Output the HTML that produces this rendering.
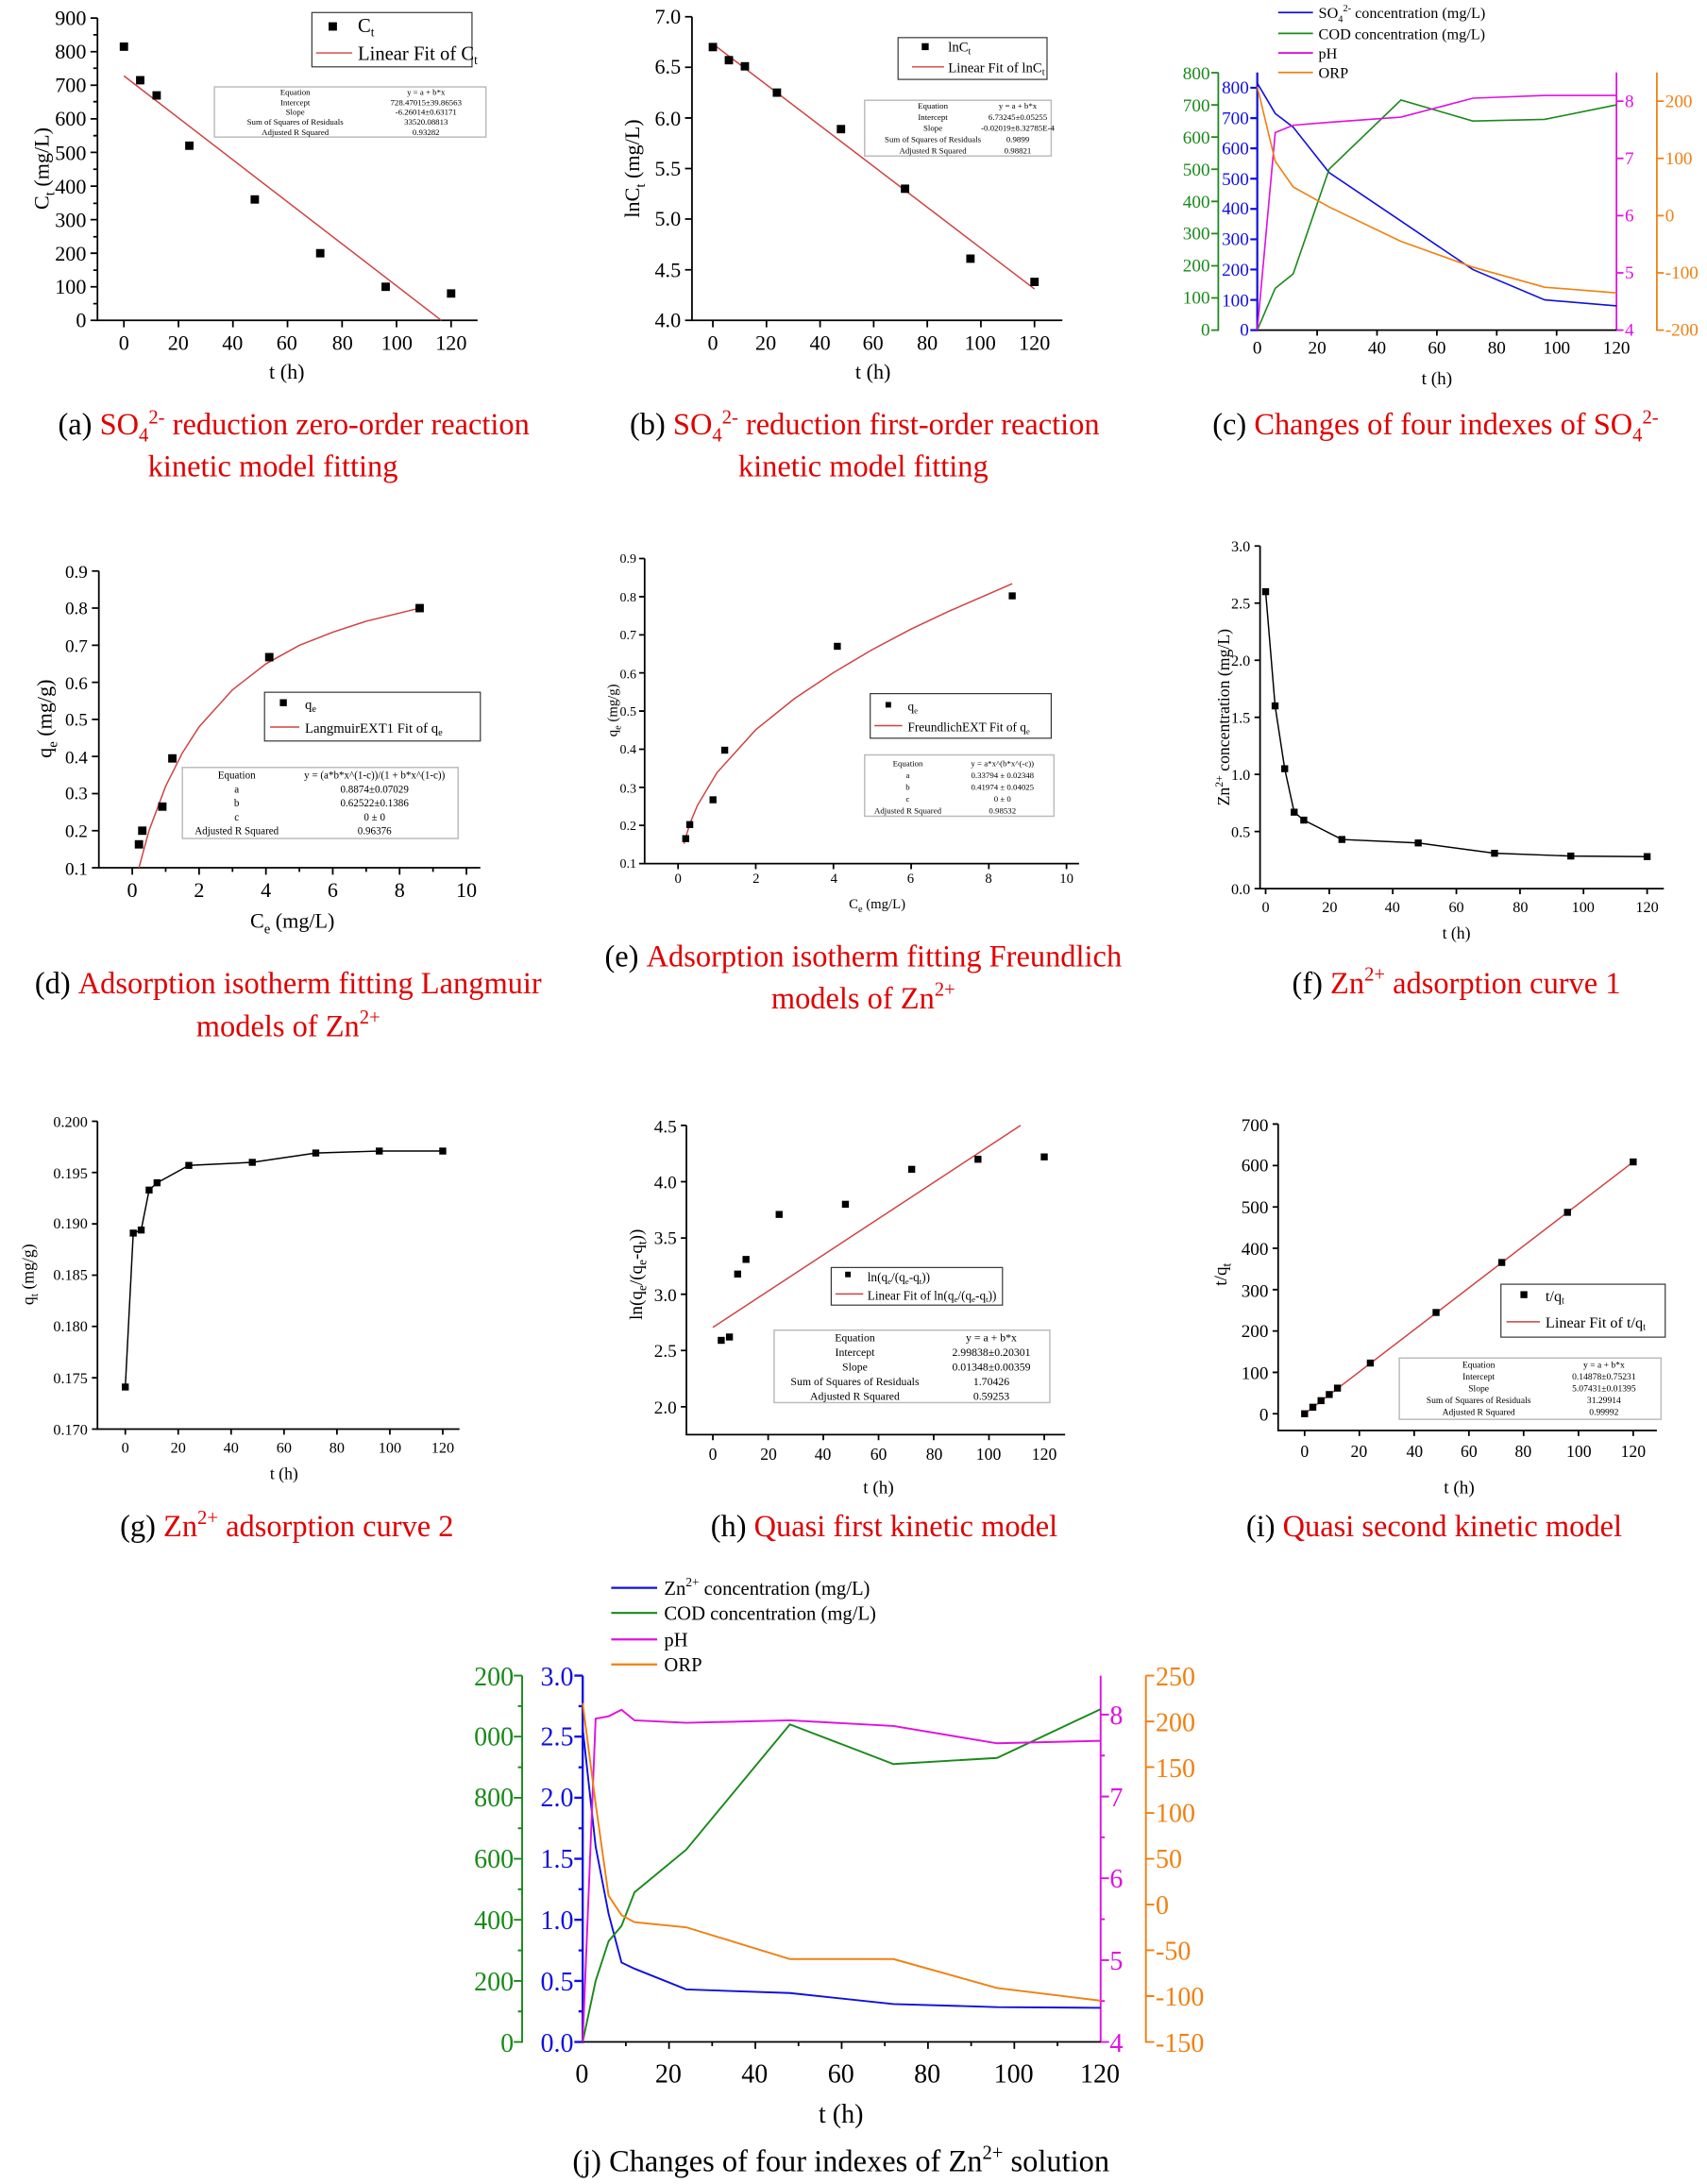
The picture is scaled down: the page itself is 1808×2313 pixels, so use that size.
<!DOCTYPE html>
<html><head><meta charset="utf-8"><style>
html,body{margin:0;padding:0;background:#fff}
svg{display:block}
text{font-family:"Liberation Serif",serif}
.k{stroke:#000;stroke-width:1.2;fill:none}
.t{font-size:15px}
.cap{font-size:22px}
.red{fill:#e00000}
</style></head><body>
<svg width="1808" height="2313" viewBox="0 0 1226 1568" preserveAspectRatio="none" xmlns="http://www.w3.org/2000/svg">
<rect width="1226" height="1568" fill="#fff"/>

<!-- ===== (a) ===== -->
<g>
<path class="k" d="M70 13V230H343"/>
<path class="k" d="M70 230h-5M70 205.9h-5M70 181.8h-5M70 157.7h-5M70 133.6h-5M70 109.4h-5M70 85.3h-5M70 61.2h-5M70 37.1h-5M70 13h-5M89 230v5M128.2 230v5M167.3 230v5M206.5 230v5M245.7 230v5M284.8 230v5M324 230v5M70 218h-3M70 194h-3M70 170h-3M70 146h-3M70 121.5h-3M70 97.4h-3M70 73h-3M70 49h-3M70 25h-3"/>
<g class="t" text-anchor="end"><text x="62" y="235">0</text><text x="62" y="211">100</text><text x="62" y="187">200</text><text x="62" y="163">300</text><text x="62" y="139">400</text><text x="62" y="115">500</text><text x="62" y="90">600</text><text x="62" y="66">700</text><text x="62" y="42">800</text><text x="62" y="18">900</text></g>
<g class="t" text-anchor="middle"><text x="89" y="251">0</text><text x="128" y="251">20</text><text x="167" y="251">40</text><text x="206" y="251">60</text><text x="246" y="251">80</text><text x="285" y="251">100</text><text x="324" y="251">120</text><text x="206" y="272">t (h)</text></g>
<text class="t" transform="translate(35,121) rotate(-90)" text-anchor="middle">C<tspan font-size="10" dy="4">t</tspan><tspan dy="-4"> (mg/L)</tspan></text>
<line x1="89" y1="54.5" x2="317" y2="230" stroke="#d04040" stroke-width="1"/>
<g fill="#000"><rect x="86" y="30.5" width="6" height="6"/><rect x="97.7" y="54.6" width="6" height="6"/><rect x="109.5" y="65.5" width="6" height="6"/><rect x="133" y="101.6" width="6" height="6"/><rect x="180" y="140.2" width="6" height="6"/><rect x="227" y="178.8" width="6" height="6"/><rect x="274" y="202.9" width="6" height="6"/><rect x="321" y="207.7" width="6" height="6"/></g>
<rect x="224" y="9" width="115" height="39" fill="#fff" stroke="#333" stroke-width="0.8"/>
<rect x="236" y="16" width="6" height="6" fill="#000"/><text x="257" y="23" font-size="14">C<tspan font-size="9" dy="3">t</tspan></text>
<line x1="227" y1="38" x2="253" y2="38" stroke="#d04040"/><text x="257" y="43" font-size="14">Linear Fit of C<tspan font-size="9" dy="3">t</tspan></text>
<rect x="154" y="62.4" width="195" height="36" fill="#fff" stroke="#bbb"/>
<g font-size="6" text-anchor="middle"><text x="212" y="68">Equation</text><text x="212" y="75.5">Intercept</text><text x="212" y="82.5">Slope</text><text x="212" y="89.5">Sum of Squares of Residuals</text><text x="212" y="97">Adjusted R Squared</text><text x="306" y="68">y = a + b*x</text><text x="306" y="75.5">728.47015±39.86563</text><text x="306" y="82.5">-6.26014±0.63171</text><text x="306" y="89.5">33520.08813</text><text x="306" y="97">0.93282</text></g>
<text class="cap" x="211" y="312" text-anchor="middle">(a) <tspan class="red">SO<tspan font-size="14" dy="5">4</tspan><tspan font-size="14" dy="-13">2-</tspan><tspan dy="8"> reduction zero-order reaction</tspan></tspan></text>
<text class="cap red" x="196" y="342" text-anchor="middle">kinetic model fitting</text>
</g>

<!-- ===== (b) ===== -->
<g>
<path class="k" d="M497 12V230H763"/>
<path class="k" d="M497 230h-5M497 193.7h-5M497 157.3h-5M497 121h-5M497 84.7h-5M497 48.3h-5M497 12h-5M512 230v5M550.5 230v5M589 230v5M627.5 230v5M666 230v5M704.5 230v5M743 230v5"/>
<g class="t" text-anchor="end"><text x="489" y="235">4.0</text><text x="489" y="199">4.5</text><text x="489" y="162">5.0</text><text x="489" y="126">5.5</text><text x="489" y="90">6.0</text><text x="489" y="53">6.5</text><text x="489" y="17">7.0</text></g>
<g class="t" text-anchor="middle"><text x="512" y="251">0</text><text x="550" y="251">20</text><text x="589" y="251">40</text><text x="627" y="251">60</text><text x="666" y="251">80</text><text x="704" y="251">100</text><text x="743" y="251">120</text><text x="627" y="272">t (h)</text></g>
<text class="t" transform="translate(459,121) rotate(-90)" text-anchor="middle">lnC<tspan font-size="10" dy="4">t</tspan><tspan dy="-4"> (mg/L)</tspan></text>
<line x1="512" y1="31.5" x2="743" y2="207.5" stroke="#d04040"/>
<g fill="#000"><rect x="509" y="30.8" width="6" height="6"/><rect x="520.5" y="40.2" width="6" height="6"/><rect x="532" y="44.6" width="6" height="6"/><rect x="555" y="63.5" width="6" height="6"/><rect x="601" y="89.7" width="6" height="6"/><rect x="647" y="132.5" width="6" height="6"/><rect x="694" y="182.7" width="6" height="6"/><rect x="740" y="199.4" width="6" height="6"/></g>
<rect x="645" y="27" width="107" height="30" fill="#fff" stroke="#333" stroke-width="0.8"/>
<rect x="662" y="31" width="5" height="5" fill="#000"/><text x="681" y="37" font-size="10">lnC<tspan font-size="7" dy="2">t</tspan></text>
<line x1="655" y1="48" x2="678" y2="48" stroke="#d04040"/><text x="681" y="52" font-size="10">Linear Fit of lnC<tspan font-size="7" dy="2">t</tspan></text>
<rect x="621" y="72" width="134" height="40" fill="#fff" stroke="#bbb"/>
<g font-size="6" text-anchor="middle"><text x="670" y="78">Equation</text><text x="670" y="86">Intercept</text><text x="670" y="94">Slope</text><text x="670" y="102">Sum of Squares of Residuals</text><text x="670" y="110">Adjusted R Squared</text><text x="731" y="78">y = a + b*x</text><text x="731" y="86">6.73245±0.05255</text><text x="731" y="94">-0.02019±8.32785E-4</text><text x="731" y="102">0.9899</text><text x="731" y="110">0.98821</text></g>
<text class="cap" x="621" y="312" text-anchor="middle">(b) <tspan class="red">SO<tspan font-size="14" dy="5">4</tspan><tspan font-size="14" dy="-13">2-</tspan><tspan dy="8"> reduction first-order reaction</tspan></tspan></text>
<text class="cap red" x="620" y="342" text-anchor="middle">kinetic model fitting</text>
</g>

<!-- ===== (c) ===== -->
<g>
<path d="M875 52V237h-5M875 213.9h-5M875 190.8h-5M875 167.7h-5M875 144.6h-5M875 121.5h-5M875 98.4h-5M875 75.3h-5M875 52.2h-5" stroke="#1a8a1a" fill="none" stroke-width="1.2"/>
<path d="M903 52V237h-5M903 215.3h-5M903 193.5h-5M903 171.8h-5M903 150h-5M903 128.3h-5M903 106.5h-5M903 84.8h-5M903 63h-5" stroke="#1010e0" fill="none" stroke-width="1.5"/>
<path d="M1161 52V237h5M1161 195.9h5M1161 154.8h5M1161 113.7h5M1161 72.6h5" stroke="#e010e0" fill="none" stroke-width="1.2"/>
<path d="M1190 52V237h5M1190 195.9h5M1190 154.8h5M1190 113.7h5M1190 72.6h5" stroke="#f08010" fill="none" stroke-width="1.2"/>
<path class="k" d="M903 237H1161M946 237v4M989 237v4M1032 237v4M1075 237v4M1118 237v4"/>
<g font-size="13" text-anchor="end" fill="#1a8a1a"><text x="869" y="241">0</text><text x="869" y="218">100</text><text x="869" y="195">200</text><text x="869" y="172">300</text><text x="869" y="149">400</text><text x="869" y="126">500</text><text x="869" y="103">600</text><text x="869" y="80">700</text><text x="869" y="57">800</text></g>
<g font-size="13" text-anchor="end" fill="#1010e0"><text x="897" y="241">0</text><text x="897" y="220">100</text><text x="897" y="198">200</text><text x="897" y="176">300</text><text x="897" y="154">400</text><text x="897" y="133">500</text><text x="897" y="111">600</text><text x="897" y="89">700</text><text x="897" y="67">800</text></g>
<g font-size="13" fill="#e010e0"><text x="1167" y="241">4</text><text x="1167" y="200">5</text><text x="1167" y="159">6</text><text x="1167" y="118">7</text><text x="1167" y="77">8</text></g>
<g font-size="13" fill="#f08010"><text x="1196" y="241">-200</text><text x="1196" y="200">-100</text><text x="1196" y="159">0</text><text x="1196" y="118">100</text><text x="1196" y="77">200</text></g>
<g font-size="13" text-anchor="middle"><text x="903" y="254">0</text><text x="946" y="254">20</text><text x="989" y="254">40</text><text x="1032" y="254">60</text><text x="1075" y="254">80</text><text x="1118" y="254">100</text><text x="1161" y="254">120</text><text x="1032" y="276">t (h)</text></g>
<g fill="none" stroke-width="1.1">
<polyline stroke="#1010e0" points="903,59.7 915.9,81.5 928.8,91.3 954.6,123.9 1006.2,158.7 1057.8,193.5 1109.4,215.3 1161,219.6"/>
<polyline stroke="#1a8a1a" points="903,237 915.9,207 928.8,196.6 954.6,121.5 1006.2,71.8 1057.8,86.9 1109.4,85.7 1161,75.3"/>
<polyline stroke="#e010e0" points="903,237 915.9,95.2 928.8,89.9 954.6,87.8 1006.2,84.1 1057.8,70.5 1109.4,68.5 1161,68.5"/>
<polyline stroke="#f08010" points="903,62.3 915.9,115.8 928.8,134.2 954.6,148.6 1006.2,173.3 1057.8,191.8 1109.4,206.2 1161,210.3"/>
</g>
<g stroke-width="1.2"><line x1="918" y1="9" x2="943" y2="9" stroke="#1010e0"/><line x1="918" y1="24" x2="943" y2="24" stroke="#1a8a1a"/><line x1="918" y1="38" x2="943" y2="38" stroke="#e010e0"/><line x1="918" y1="52" x2="943" y2="52" stroke="#f08010"/></g>
<g font-size="11"><text x="947" y="13">SO<tspan font-size="7" dy="3">4</tspan><tspan font-size="7" dy="-8">2-</tspan><tspan dy="5"> concentration (mg/L)</tspan></text><text x="947" y="28">COD concentration (mg/L)</text><text x="947" y="42">pH</text><text x="947" y="56">ORP</text></g>
<text class="cap" x="1031" y="312" text-anchor="middle">(c) <tspan class="red">Changes of four indexes of SO<tspan font-size="14" dy="5">4</tspan><tspan font-size="14" dy="-13">2-</tspan></tspan></text>
</g>

<!-- ===== (d) ===== -->
<g>
<path class="k" d="M71 410V623H345"/>
<path class="k" d="M71 623h-5M71 596.4h-5M71 569.75h-5M71 543.1h-5M71 516.5h-5M71 489.9h-5M71 463.25h-5M71 436.6h-5M71 410h-5M95 623v5M143 623v5M191 623v5M239 623v5M287 623v5M335 623v5M119 623v3M167 623v3M215 623v3M263 623v3M311 623v3"/>
<g font-size="13" text-anchor="end"><text x="63" y="628">0.1</text><text x="63" y="601">0.2</text><text x="63" y="574">0.3</text><text x="63" y="548">0.4</text><text x="63" y="521">0.5</text><text x="63" y="495">0.6</text><text x="63" y="468">0.7</text><text x="63" y="441">0.8</text><text x="63" y="415">0.9</text></g>
<g class="t" text-anchor="middle"><text x="95" y="644">0</text><text x="143" y="644">2</text><text x="191" y="644">4</text><text x="239" y="644">6</text><text x="287" y="644">8</text><text x="335" y="644">10</text><text x="210" y="666">C<tspan font-size="10" dy="4">e</tspan><tspan dy="-4"> (mg/L)</tspan></text></g>
<text class="t" transform="translate(37,516) rotate(-90)" text-anchor="middle">q<tspan font-size="10" dy="4">e</tspan><tspan dy="-4"> (mg/g)</tspan></text>
<polyline fill="none" stroke="#d04040" points="99.8,623 107,596.4 119,564.4 131,540.5 143,521.8 167,495.2 191,476.6 215,463.3 239,453.9 263,446 301.4,436.6"/>
<g fill="#000"><rect x="96.8" y="603.2" width="6" height="6"/><rect x="99.2" y="593.4" width="6" height="6"/><rect x="113.6" y="576.1" width="6" height="6"/><rect x="120.8" y="541.5" width="6" height="6"/><rect x="190.4" y="468.8" width="6" height="6"/><rect x="298.4" y="433.6" width="6" height="6"/></g>
<rect x="190" y="497" width="155" height="35" fill="#fff" stroke="#333" stroke-width="0.8"/>
<rect x="201" y="502" width="5" height="5" fill="#000"/><text x="219" y="509" font-size="10">q<tspan font-size="7" dy="2">e</tspan></text>
<line x1="194" y1="522" x2="215" y2="522" stroke="#d04040"/><text x="219" y="526" font-size="10">LangmuirEXT1 Fit of q<tspan font-size="7" dy="2">e</tspan></text>
<rect x="131" y="551" width="198" height="51" fill="#fff" stroke="#bbb"/>
<g font-size="7.5" text-anchor="middle"><text x="170" y="559">Equation</text><text x="170" y="569">a</text><text x="170" y="579">b</text><text x="170" y="589">c</text><text x="170" y="599">Adjusted R Squared</text><text x="269" y="559">y = (a*b*x^(1-c))/(1 + b*x^(1-c))</text><text x="269" y="569">0.8874±0.07029</text><text x="269" y="579">0.62522±0.1386</text><text x="269" y="589">0 ± 0</text><text x="269" y="599">0.96376</text></g>
<text class="cap" x="207" y="713" text-anchor="middle">(d) <tspan class="red">Adsorption isotherm fitting Langmuir</tspan></text>
<text class="cap red" x="207" y="744" text-anchor="middle">models of Zn<tspan font-size="14" dy="-9">2+</tspan></text>
</g>

<!-- ===== (e) ===== -->
<g>
<path class="k" d="M463 401V620H775" stroke-width="1"/>
<path class="k" stroke-width="1" d="M463 620h-4M463 592.6h-4M463 565.3h-4M463 537.9h-4M463 510.5h-4M463 483.1h-4M463 455.8h-4M463 428.4h-4M463 401h-4M487 620v4M542.8 620v4M598.6 620v4M654.4 620v4M710.2 620v4M766 620v4"/>
<g font-size="9.5" text-anchor="end"><text x="457" y="623">0.1</text><text x="457" y="596">0.2</text><text x="457" y="569">0.3</text><text x="457" y="541">0.4</text><text x="457" y="514">0.5</text><text x="457" y="487">0.6</text><text x="457" y="459">0.7</text><text x="457" y="432">0.8</text><text x="457" y="404">0.9</text></g>
<g font-size="10" text-anchor="middle"><text x="487" y="634">0</text><text x="543" y="634">2</text><text x="599" y="634">4</text><text x="654" y="634">6</text><text x="710" y="634">8</text><text x="766" y="634">10</text><text x="630" y="652">C<tspan font-size="7" dy="3">e</tspan><tspan dy="-3"> (mg/L)</tspan></text></g>
<text font-size="10" transform="translate(443,510) rotate(-90)" text-anchor="middle">q<tspan font-size="7" dy="3">e</tspan><tspan dy="-3"> (mg/g)</tspan></text>
<polyline fill="none" stroke="#d04040" points="491.2,605.8 495.4,591.5 501,578.1 514.9,554.8 542.8,523.9 570.7,501.5 598.6,482.9 626.5,466.4 654.4,451.6 682.3,438.5 727,419.1"/>
<g fill="#000"><rect x="490" y="599.6" width="5" height="5"/><rect x="492.9" y="589.5" width="5" height="5"/><rect x="509.6" y="571.7" width="5" height="5"/><rect x="518" y="536.1" width="5" height="5"/><rect x="598.9" y="461.5" width="5" height="5"/><rect x="724.5" y="425.3" width="5" height="5"/></g>
<rect x="625" y="498" width="130" height="32" fill="#fff" stroke="#333" stroke-width="0.8"/>
<rect x="636" y="504" width="4" height="4" fill="#000"/><text x="652" y="510" font-size="9">q<tspan font-size="6" dy="2">e</tspan></text>
<line x1="628" y1="521" x2="648" y2="521" stroke="#d04040"/><text x="652" y="525" font-size="9">FreundlichEXT Fit of q<tspan font-size="6" dy="2">e</tspan></text>
<rect x="621" y="542" width="136" height="44" fill="#fff" stroke="#bbb"/>
<g font-size="6" text-anchor="middle"><text x="652" y="550">Equation</text><text x="652" y="558.5">a</text><text x="652" y="567">b</text><text x="652" y="575.5">c</text><text x="652" y="584">Adjusted R Squared</text><text x="720" y="550">y = a*x^(b*x^(-c))</text><text x="720" y="558.5">0.33794 ± 0.02348</text><text x="720" y="567">0.41974 ± 0.04025</text><text x="720" y="575.5">0 ± 0</text><text x="720" y="584">0.98532</text></g>
<text class="cap" x="620" y="694" text-anchor="middle">(e) <tspan class="red">Adsorption isotherm fitting Freundlich</tspan></text>
<text class="cap red" x="620" y="724" text-anchor="middle">models of Zn<tspan font-size="14" dy="-9">2+</tspan></text>
</g>

<!-- ===== (f) ===== -->
<g>
<path class="k" d="M905 392V638H1195" stroke-width="1"/>
<path class="k" stroke-width="1" d="M905 638h-4M905 597h-4M905 556h-4M905 515h-4M905 474h-4M905 433h-4M905 392h-4M909 638v4M954.7 638v4M1000.3 638v4M1046 638v4M1091.7 638v4M1137.3 638v4M1183 638v4"/>
<g font-size="11" text-anchor="end"><text x="898" y="642">0.0</text><text x="898" y="601">0.5</text><text x="898" y="560">1.0</text><text x="898" y="519">1.5</text><text x="898" y="478">2.0</text><text x="898" y="437">2.5</text><text x="898" y="396">3.0</text></g>
<g font-size="11" text-anchor="middle"><text x="909" y="655">0</text><text x="955" y="655">20</text><text x="1000" y="655">40</text><text x="1046" y="655">60</text><text x="1092" y="655">80</text><text x="1137" y="655">100</text><text x="1183" y="655">120</text><text x="1046" y="674" font-size="12">t (h)</text></g>
<text font-size="12" transform="translate(883,515) rotate(-90)" text-anchor="middle">Zn<tspan font-size="8" dy="-5">2+</tspan><tspan dy="5"> concentration (mg/L)</tspan></text>
<polyline fill="none" stroke="#000" points="909,424.8 915.8,506.8 922.7,551.9 929.5,583.1 936.4,588.8 963.8,602.7 1018.6,605.2 1073.4,612.6 1128.2,614.6 1183,615"/>
<g fill="#000"><rect x="906.5" y="422.3" width="5" height="5"/><rect x="913.3" y="504.3" width="5" height="5"/><rect x="920.2" y="549.4" width="5" height="5"/><rect x="927" y="580.6" width="5" height="5"/><rect x="933.9" y="586.3" width="5" height="5"/><rect x="961.3" y="600.2" width="5" height="5"/><rect x="1016.1" y="602.7" width="5" height="5"/><rect x="1070.9" y="610.1" width="5" height="5"/><rect x="1125.7" y="612.1" width="5" height="5"/><rect x="1180.5" y="612.5" width="5" height="5"/></g>
<text class="cap" x="1046" y="713" text-anchor="middle">(f) <tspan class="red">Zn<tspan font-size="14" dy="-9">2+</tspan><tspan dy="9"> adsorption curve 1</tspan></tspan></text>
</g>

<!-- ===== (g) ===== -->
<g>
<path class="k" d="M70 805V1026H330" stroke-width="1"/>
<path class="k" stroke-width="1" d="M70 1026h-4M70 989.2h-4M70 952.3h-4M70 915.5h-4M70 878.7h-4M70 841.8h-4M70 805h-4M90 1026v4M128 1026v4M166 1026v4M204 1026v4M242 1026v4M280 1026v4M318 1026v4"/>
<g font-size="11" text-anchor="end"><text x="63" y="1030">0.170</text><text x="63" y="993">0.175</text><text x="63" y="956">0.180</text><text x="63" y="919">0.185</text><text x="63" y="882">0.190</text><text x="63" y="846">0.195</text><text x="63" y="809">0.200</text></g>
<g font-size="11" text-anchor="middle"><text x="90" y="1043">0</text><text x="128" y="1043">20</text><text x="166" y="1043">40</text><text x="204" y="1043">60</text><text x="242" y="1043">80</text><text x="280" y="1043">100</text><text x="318" y="1043">120</text><text x="204" y="1062" font-size="12">t (h)</text></g>
<text font-size="12" transform="translate(24,915) rotate(-90)" text-anchor="middle">q<tspan font-size="8" dy="3">t</tspan><tspan dy="-3"> (mg/g)</tspan></text>
<polyline fill="none" stroke="#000" points="90,995.8 95.7,885.3 101.4,883.1 107.1,854.4 112.8,849.2 135.6,836.7 181.2,834.5 226.8,827.8 272.4,826.4 318,826.4"/>
<g fill="#000"><rect x="87.5" y="993.3" width="5" height="5"/><rect x="93.2" y="882.8" width="5" height="5"/><rect x="98.9" y="880.6" width="5" height="5"/><rect x="104.6" y="851.9" width="5" height="5"/><rect x="110.3" y="846.7" width="5" height="5"/><rect x="133.1" y="834.2" width="5" height="5"/><rect x="178.7" y="832" width="5" height="5"/><rect x="224.3" y="825.3" width="5" height="5"/><rect x="269.9" y="823.9" width="5" height="5"/><rect x="315.5" y="823.9" width="5" height="5"/></g>
<text class="cap" x="206" y="1103" text-anchor="middle">(g) <tspan class="red">Zn<tspan font-size="14" dy="-9">2+</tspan><tspan dy="9"> adsorption curve 2</tspan></tspan></text>
</g>

<!-- ===== (h) ===== -->
<g>
<path class="k" d="M493 808V1030H765" stroke-width="1"/>
<path class="k" stroke-width="1" d="M493 1010h-4M493 969.6h-4M493 929.2h-4M493 888.8h-4M493 848.4h-4M493 808h-4M512 1030v4M551.7 1030v4M591.3 1030v4M631 1030v4M670.6 1030v4M710.3 1030v4M750 1030v4"/>
<g font-size="13" text-anchor="end"><text x="486" y="1015">2.0</text><text x="486" y="974">2.5</text><text x="486" y="934">3.0</text><text x="486" y="893">3.5</text><text x="486" y="853">4.0</text><text x="486" y="813">4.5</text></g>
<g font-size="12" text-anchor="middle"><text x="512" y="1048">0</text><text x="552" y="1048">20</text><text x="591" y="1048">40</text><text x="631" y="1048">60</text><text x="671" y="1048">80</text><text x="710" y="1048">100</text><text x="750" y="1048">120</text><text x="631" y="1072" font-size="13">t (h)</text></g>
<text font-size="13" transform="translate(461,915) rotate(-90)" text-anchor="middle">ln(q<tspan font-size="9" dy="3">e</tspan><tspan dy="-3">/(q</tspan><tspan font-size="9" dy="3">e</tspan><tspan dy="-3">-q</tspan><tspan font-size="9" dy="3">t</tspan><tspan dy="-3">))</tspan></text>
<line x1="512" y1="953" x2="733" y2="808" stroke="#d04040"/>
<g fill="#000"><rect x="515.5" y="959.8" width="5" height="5"/><rect x="521.4" y="957.4" width="5" height="5"/><rect x="527.3" y="912.2" width="5" height="5"/><rect x="533.3" y="901.7" width="5" height="5"/><rect x="557.1" y="869.4" width="5" height="5"/><rect x="604.7" y="862.1" width="5" height="5"/><rect x="652.3" y="837" width="5" height="5"/><rect x="699.9" y="829.8" width="5" height="5"/><rect x="747.5" y="828.1" width="5" height="5"/></g>
<rect x="597" y="910" width="123" height="27" fill="#fff" stroke="#333" stroke-width="0.8"/>
<rect x="607" y="913" width="4" height="4" fill="#000"/><text x="623" y="920" font-size="9">ln(q<tspan font-size="6" dy="2">e</tspan><tspan dy="-2">/(q</tspan><tspan font-size="6" dy="2">e</tspan><tspan dy="-2">-q</tspan><tspan font-size="6" dy="2">t</tspan><tspan dy="-2">))</tspan></text>
<line x1="600" y1="929" x2="620" y2="929" stroke="#d04040"/><text x="623" y="933" font-size="9">Linear Fit of ln(q<tspan font-size="6" dy="2">e</tspan><tspan dy="-2">/(q</tspan><tspan font-size="6" dy="2">e</tspan><tspan dy="-2">-q</tspan><tspan font-size="6" dy="2">t</tspan><tspan dy="-2">))</tspan></text>
<rect x="556" y="955" width="198" height="52" fill="#fff" stroke="#bbb"/>
<g font-size="8" text-anchor="middle"><text x="614" y="963">Equation</text><text x="614" y="973.5">Intercept</text><text x="614" y="984">Slope</text><text x="614" y="994.5">Sum of Squares of Residuals</text><text x="614" y="1005">Adjusted R Squared</text><text x="712" y="963">y = a + b*x</text><text x="712" y="973.5">2.99838±0.20301</text><text x="712" y="984">0.01348±0.00359</text><text x="712" y="994.5">1.70426</text><text x="712" y="1005">0.59253</text></g>
<text class="cap" x="635" y="1103" text-anchor="middle">(h) <tspan class="red">Quasi first kinetic model</tspan></text>
</g>

<!-- ===== (i) ===== -->
<g>
<path class="k" d="M918 807V1027H1190" stroke-width="1"/>
<path class="k" stroke-width="1" d="M918 1015h-4M918 985.3h-4M918 955.6h-4M918 925.9h-4M918 896.2h-4M918 866.5h-4M918 836.8h-4M918 807h-4M937 1027v4M976.3 1027v4M1015.7 1027v4M1055 1027v4M1094.3 1027v4M1133.7 1027v4M1173 1027v4"/>
<g font-size="13" text-anchor="end"><text x="911" y="1020">0</text><text x="911" y="990">100</text><text x="911" y="960">200</text><text x="911" y="931">300</text><text x="911" y="901">400</text><text x="911" y="871">500</text><text x="911" y="841">600</text><text x="911" y="812">700</text></g>
<g font-size="12" text-anchor="middle"><text x="937" y="1046">0</text><text x="976" y="1046">20</text><text x="1016" y="1046">40</text><text x="1055" y="1046">60</text><text x="1094" y="1046">80</text><text x="1134" y="1046">100</text><text x="1173" y="1046">120</text><text x="1048" y="1072" font-size="13">t (h)</text></g>
<text font-size="13" transform="translate(881,915) rotate(-90)" text-anchor="middle">t/q<tspan font-size="9" dy="3">t</tspan></text>
<line x1="937" y1="1015" x2="1173" y2="834.2" stroke="#d04040"/>
<g fill="#000"><rect x="934.5" y="1012.5" width="5" height="5"/><rect x="940.4" y="1007.8" width="5" height="5"/><rect x="946.3" y="1003.1" width="5" height="5"/><rect x="952.2" y="998.7" width="5" height="5"/><rect x="958.1" y="994.1" width="5" height="5"/><rect x="981.7" y="976.1" width="5" height="5"/><rect x="1028.9" y="939.8" width="5" height="5"/><rect x="1076.1" y="903.9" width="5" height="5"/><rect x="1123.3" y="867.9" width="5" height="5"/><rect x="1170.5" y="831.7" width="5" height="5"/></g>
<rect x="1078" y="922" width="118" height="38" fill="#fff" stroke="#333" stroke-width="0.8"/>
<rect x="1092" y="927" width="5" height="5" fill="#000"/><text x="1110" y="934" font-size="11">t/q<tspan font-size="7" dy="2">t</tspan></text>
<line x1="1082" y1="949" x2="1106" y2="949" stroke="#d04040"/><text x="1110" y="953" font-size="11">Linear Fit of t/q<tspan font-size="7" dy="2">t</tspan></text>
<rect x="1005" y="975" width="188" height="44" fill="#fff" stroke="#bbb"/>
<g font-size="6.5" text-anchor="middle"><text x="1062" y="982">Equation</text><text x="1062" y="990.5">Intercept</text><text x="1062" y="999">Slope</text><text x="1062" y="1007.5">Sum of Squares of Residuals</text><text x="1062" y="1016">Adjusted R Squared</text><text x="1152" y="982">y = a + b*x</text><text x="1152" y="990.5">0.14878±0.75231</text><text x="1152" y="999">5.07431±0.01395</text><text x="1152" y="1007.5">31.29914</text><text x="1152" y="1016">0.99992</text></g>
<text class="cap" x="1030" y="1103" text-anchor="middle">(i) <tspan class="red">Quasi second kinetic model</tspan></text>
</g>

<!-- ===== (j) ===== -->
<g>
<path d="M375 1203V1466h-6M375 1422.2h-6M375 1378.3h-6M375 1334.5h-6M375 1290.7h-6M375 1246.8h-6M375 1203h-6M375 1444.1h-3M375 1400.3h-3M375 1356.4h-3M375 1312.6h-3M375 1268.8h-3M375 1224.9h-3" stroke="#1a8a1a" fill="none" stroke-width="1.3"/>
<path d="M418.5 1203V1466h-6M418.5 1422.2h-6M418.5 1378.3h-6M418.5 1334.5h-6M418.5 1290.7h-6M418.5 1246.8h-6M418.5 1203h-6M418.5 1444.1h-3M418.5 1400.3h-3M418.5 1356.4h-3M418.5 1312.6h-3M418.5 1268.8h-3M418.5 1224.9h-3" stroke="#1010e0" fill="none" stroke-width="1.6"/>
<path d="M790.5 1203V1466h6M790.5 1407.3h6M790.5 1348.5h6M790.5 1289.8h6M790.5 1231h6M790.5 1436.6h3M790.5 1377.9h3M790.5 1319.1h3M790.5 1260.4h3" stroke="#e010e0" fill="none" stroke-width="1.3"/>
<path d="M823 1203V1466h6M823 1433.1h6M823 1400.2h6M823 1367.4h6M823 1334.5h6M823 1301.6h6M823 1268.7h6M823 1235.9h6M823 1203h6" stroke="#f08010" fill="none" stroke-width="1.3"/>
<path class="k" d="M418.5 1466H790.5M480.5 1466v5M542.5 1466v5M604.5 1466v5M666.5 1466v5M728.5 1466v5M449.5 1466v3M511.5 1466v3M573.5 1466v3M635.5 1466v3M697.5 1466v3M759.5 1466v3"/>
<g font-size="19" text-anchor="end" fill="#1a8a1a"><text x="369" y="1473">0</text><text x="369" y="1429">200</text><text x="369" y="1385">400</text><text x="369" y="1341">600</text><text x="369" y="1297">800</text><text x="369" y="1253">000</text><text x="369" y="1210">200</text></g>
<g font-size="19" text-anchor="end" fill="#1010e0"><text x="412" y="1473">0.0</text><text x="412" y="1429">0.5</text><text x="412" y="1385">1.0</text><text x="412" y="1341">1.5</text><text x="412" y="1297">2.0</text><text x="412" y="1253">2.5</text><text x="412" y="1210">3.0</text></g>
<g font-size="19" fill="#e010e0"><text x="797" y="1473">4</text><text x="797" y="1414">5</text><text x="797" y="1355">6</text><text x="797" y="1297">7</text><text x="797" y="1238">8</text></g>
<g font-size="19" fill="#f08010"><text x="830" y="1473">-150</text><text x="830" y="1440">-100</text><text x="830" y="1407">-50</text><text x="830" y="1374">0</text><text x="830" y="1341">50</text><text x="830" y="1308">100</text><text x="830" y="1276">150</text><text x="830" y="1243">200</text><text x="830" y="1210">250</text></g>
<g font-size="19" text-anchor="middle"><text x="418" y="1495">0</text><text x="480" y="1495">20</text><text x="542" y="1495">40</text><text x="604" y="1495">60</text><text x="666" y="1495">80</text><text x="728" y="1495">100</text><text x="790" y="1495">120</text><text x="604" y="1524">t (h)</text></g>
<g fill="none" stroke-width="1.3">
<polyline stroke="#1010e0" points="418.5,1203 418.5,1240.7 427.8,1325.7 437.1,1374 446.4,1409 455.7,1413.4 492.9,1428.3 567.3,1430.9 641.7,1438.8 716.1,1441 790.5,1441.5"/>
<polyline stroke="#1a8a1a" points="418.5,1466 427.8,1422.2 437.1,1393.7 446.4,1382.7 455.7,1358.6 492.9,1327.9 567.3,1238 641.7,1266.5 716.1,1262.1 790.5,1227.1"/>
<polyline stroke="#e010e0" points="418.5,1466 427.8,1233.9 437.1,1232.2 446.4,1227.5 455.7,1235.1 492.9,1236.9 567.3,1235.1 641.7,1239.2 716.1,1251.6 790.5,1249.8"/>
<polyline stroke="#f08010" points="418.5,1222.7 427.8,1295 437.1,1361 446.4,1375 455.7,1380 492.9,1383.7 567.3,1406.5 641.7,1406.5 716.1,1427.3 790.5,1436.4"/>
</g>
<g stroke-width="1.5"><line x1="439" y1="1140" x2="472" y2="1140" stroke="#1010e0"/><line x1="439" y1="1158" x2="472" y2="1158" stroke="#1a8a1a"/><line x1="439" y1="1177" x2="472" y2="1177" stroke="#e010e0"/><line x1="439" y1="1195" x2="472" y2="1195" stroke="#f08010"/></g>
<g font-size="14"><text x="477" y="1145">Zn<tspan font-size="9" dy="-6">2+</tspan><tspan dy="6"> concentration (mg/L)</tspan></text><text x="477" y="1163">COD concentration (mg/L)</text><text x="477" y="1182">pH</text><text x="477" y="1200">ORP</text></g>
<text class="cap" x="604" y="1559" text-anchor="middle">(j) Changes of four indexes of Zn<tspan font-size="14" dy="-9">2+</tspan><tspan dy="9"> solution</tspan></text>
</g>
</svg>
</body></html>
